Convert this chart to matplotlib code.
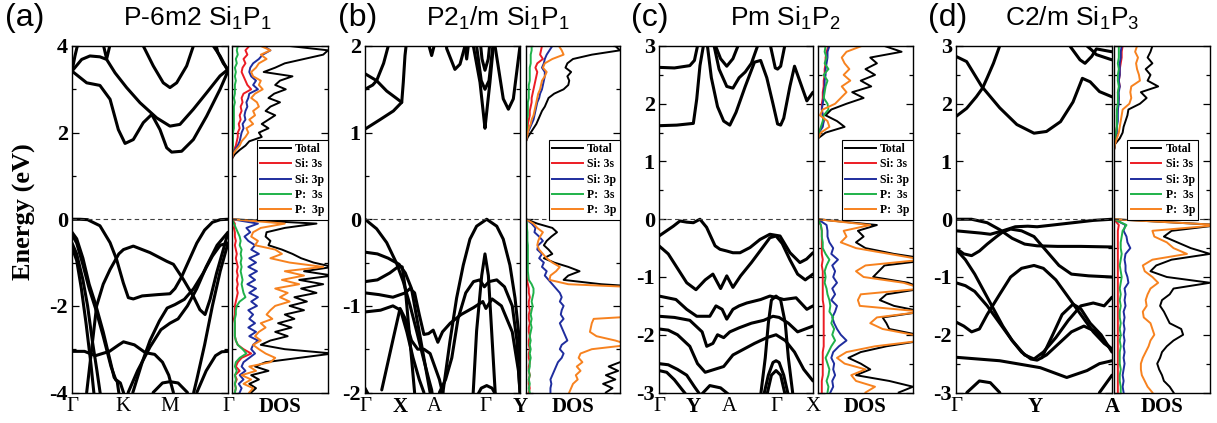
import numpy as np
import matplotlib.pyplot as plt
from matplotlib.font_manager import FontProperties
from matplotlib.lines import Line2D

plt.rcParams['font.family'] = 'Liberation Serif'
plt.rcParams['axes.unicode_minus'] = False
plt.rcParams['mathtext.fontset'] = 'custom'
plt.rcParams['mathtext.rm'] = 'Liberation Sans'
plt.rcParams['mathtext.it'] = 'Liberation Sans'

# ---------------- band structures: (k, E) along the path, k in 0..1 ----------------
kpts_a = [0, 0.325, 0.628, 1.0]
klab_a = ['Γ', 'K', 'M', 'Γ']
bands_a = [
    [(0, 3.42), (0.094, 3.15), (0.179, 3.09), (0.244, 2.77), (0.297, 2.07), (0.34, 1.75), (0.393, 1.84),
     (0.457, 2.23), (0.511, 2.42), (0.564, 2.07), (0.607, 1.65), (0.639, 1.55), (0.703, 1.57), (0.778, 1.84),
     (0.863, 2.38), (0.949, 3.0), (1.0, 3.42)],
    [(0, 3.42), (0.062, 3.69), (0.115, 3.77), (0.179, 3.75), (0.222, 3.69), (0.276, 3.38), (0.35, 3.04),
     (0.436, 2.69), (0.543, 2.34), (0.628, 2.15), (0.692, 2.19), (0.778, 2.54), (0.863, 2.92), (0.949, 3.31),
     (1.0, 3.46)],
    [(0, 3.42), (0.019, 3.77), (0.034, 4.0), (0.05, 4.3)],
    [(1.0, 3.42), (0.949, 3.77), (0.906, 4.0), (0.88, 4.2)],
    [(1.0, 3.46), (0.97, 3.6), (0.935, 3.85), (0.91, 4.2)],
    [(0.19, 4.2), (0.222, 3.7), (0.255, 4.2)],
    [(0.44, 4.2), (0.457, 4.0), (0.521, 3.54), (0.585, 3.15), (0.628, 3.04), (0.671, 3.15), (0.735, 3.54),
     (0.778, 4.0), (0.79, 4.2)],
    [(0, 0.0), (0.05, 0.0), (0.1, -0.01), (0.179, -0.15), (0.244, -0.54), (0.286, -0.93), (0.329, -1.47),
     (0.361, -1.81), (0.393, -1.84), (0.45, -1.77), (0.55, -1.74), (0.628, -1.72), (0.66, -1.6), (0.7, -1.35),
     (0.75, -0.95), (0.8, -0.55), (0.85, -0.25), (0.9, -0.07), (0.95, -0.01), (1.0, 0.0)],
    [(0.094, -4.0), (0.158, -2.0), (0.2, -1.5), (0.244, -1.16), (0.3, -0.8), (0.33, -0.7), (0.393, -0.62),
     (0.5, -0.77), (0.607, -0.97), (0.65, -1.04), (0.714, -1.39), (0.778, -1.78), (0.82, -2.09), (0.853, -2.2),
     (0.885, -1.85), (0.927, -1.24), (0.97, -0.7), (1.0, -0.31)],
    [(0, -0.3), (0.03, -0.45), (0.07, -0.9), (0.11, -1.5), (0.15, -1.95), (0.2, -2.6), (0.24, -3.2),
     (0.27, -3.65), (0.29, -3.75), (0.3, -4.0), (0.32, -4.3)],
    [(0, -0.35), (0.03, -0.55), (0.07, -1.05), (0.11, -1.6), (0.15, -2.05), (0.2, -2.7), (0.25, -3.4),
     (0.28, -3.7), (0.31, -3.78), (0.33, -4.0), (0.34, -4.3)],
    [(0, -0.55), (0.03, -0.8), (0.07, -1.4), (0.1, -2.0), (0.13, -2.8), (0.16, -3.5), (0.18, -4.0), (0.2, -4.4)],
    [(0, -0.65), (0.03, -0.95), (0.06, -1.6), (0.09, -2.4), (0.12, -3.3), (0.14, -4.0), (0.15, -4.3)],
    [(0.39, -4.0), (0.45, -3.3), (0.5, -2.8), (0.56, -2.35), (0.61, -2.05), (0.66, -1.97), (0.72, -1.85),
     (0.78, -1.6), (0.84, -1.25), (0.9, -0.85), (0.95, -0.6), (1.0, -0.55)],
    [(0.36, -4.0), (0.42, -3.5), (0.5, -2.95), (0.57, -2.55), (0.628, -2.4), (0.68, -2.3), (0.74, -2.0),
     (0.8, -1.6), (0.86, -1.1), (0.93, -0.6), (1.0, -0.3)],
    [(0, -3.05), (0.08, -3.05), (0.15, -3.15), (0.24, -3.05), (0.3, -2.9), (0.33, -2.83), (0.4, -2.9),
     (0.47, -3.08), (0.53, -3.12), (0.58, -3.3), (0.62, -3.6), (0.65, -4.0)],
    [(0.8, -4.0), (0.86, -3.5), (0.92, -3.15), (0.96, -3.06), (1.0, -3.05)],
    [(0.52, -4.0), (0.58, -3.78), (0.628, -3.75), (0.68, -3.78), (0.74, -4.0)],
    [(1.0, -0.55), (0.95, -1.2), (0.9, -2.0), (0.85, -2.9), (0.8, -3.7), (0.78, -4.0)],
]

kpts_b = [0, 0.23, 0.445, 0.78, 1.0]
klab_b = ['Γ', 'X', 'A', 'Γ', 'Y']
bands_b = [
    [(0, 1.04), (0.097, 1.15), (0.183, 1.25), (0.237, 1.35), (0.247, 1.58), (0.258, 1.89), (0.265, 2.0), (0.27, 2.2)],
    [(0, 1.68), (0.075, 1.6), (0.14, 1.48), (0.2, 1.4), (0.237, 1.35)],
    [(0, 1.5), (0.05, 1.55), (0.075, 1.6), (0.12, 1.8), (0.15, 2.0), (0.17, 2.2)],
    [(0.38, 2.2), (0.398, 2.1), (0.43, 1.89), (0.46, 2.1), (0.475, 2.2)],
    [(0.515, 2.2), (0.527, 1.97), (0.58, 1.73), (0.613, 1.79), (0.645, 2.0), (0.655, 2.2)],
    [(0.63, 2.2), (0.656, 1.85), (0.68, 2.2)],
    [(0.69, 2.2), (0.699, 2.0), (0.742, 1.58), (0.765, 1.2), (0.774, 1.05), (0.783, 1.2), (0.806, 1.58),
     (0.828, 2.0), (0.835, 2.2)],
    [(0.71, 2.2), (0.72, 2.0), (0.75, 1.6), (0.774, 1.5), (0.8, 1.6), (0.825, 2.0), (0.835, 2.2)],
    [(0.735, 2.2), (0.755, 1.85), (0.774, 1.72), (0.795, 1.85), (0.815, 2.2)],
    [(0.83, 2.2), (0.839, 2.0), (0.892, 1.39), (0.925, 1.27), (0.957, 1.39), (1.0, 2.0)],
    [(0, 0.0), (0.075, -0.11), (0.14, -0.27), (0.204, -0.51), (0.247, -0.72), (0.29, -0.99), (0.333, -1.29),
     (0.376, -1.6), (0.409, -1.83), (0.43, -1.97), (0.44, -2.1)],
    [(0.5, -2.1), (0.505, -1.97), (0.548, -1.41), (0.591, -0.91), (0.634, -0.53), (0.677, -0.23), (0.72, -0.08),
     (0.785, 0.0), (0.85, -0.08), (0.892, -0.23), (0.935, -0.53), (0.968, -0.91), (0.99, -1.29), (1.005, -1.67)],
    [(0.695, -2.1), (0.699, -1.97), (0.72, -1.29), (0.753, -0.65), (0.774, -0.4), (0.796, -0.65), (0.817, -1.29),
     (0.839, -1.97), (0.843, -2.1)],
    [(0.48, -2.0), (0.52, -1.85), (0.56, -1.6), (0.6, -1.15), (0.65, -0.85), (0.7, -0.72), (0.74, -0.7),
     (0.77, -0.78), (0.8, -0.72), (0.85, -0.7), (0.9, -0.78), (0.95, -1.0), (0.98, -1.4), (1.0, -2.0)],
    [(0, -0.85), (0.09, -0.87), (0.18, -0.9), (0.26, -0.85), (0.29, -0.8), (0.32, -0.85), (0.35, -1.1),
     (0.38, -1.33), (0.41, -1.32), (0.44, -1.28), (0.47, -1.42), (0.5, -1.3), (0.55, -1.2), (0.62, -1.1),
     (0.7, -1.02), (0.76, -0.95), (0.78, -1.03), (0.82, -0.92), (0.88, -1.0), (0.95, -1.3), (0.99, -1.75),
     (1.0, -2.0)],
    [(0, -0.38), (0.08, -0.4), (0.15, -0.45), (0.22, -0.52), (0.26, -0.62), (0.3, -0.8), (0.33, -1.1),
     (0.36, -1.4), (0.4, -1.8), (0.42, -2.0)],
    [(0, -0.72), (0.08, -0.7), (0.16, -0.62), (0.22, -0.54), (0.24, -0.55), (0.26, -0.8), (0.28, -1.2),
     (0.3, -1.6), (0.32, -2.0)],
    [(0, -1.07), (0.1, -1.05), (0.18, -1.0), (0.23, -1.05), (0.27, -1.3), (0.31, -1.6), (0.35, -1.85), (0.38, -2.0)],
    [(0.108, -1.97), (0.183, -1.37), (0.226, -1.03), (0.26, -1.15), (0.3, -1.4), (0.34, -1.5), (0.38, -1.5),
     (0.42, -1.55), (0.48, -1.85), (0.5, -2.0)],
    [(0.72, -2.05), (0.75, -1.95), (0.785, -1.92), (0.82, -1.95), (0.85, -2.05)],
    [(0, -1.95), (0.03, -2.05)],
]

kpts_c = [0, 0.22, 0.455, 0.76, 1.0]
klab_c = ['Γ', 'Y', 'A', 'Γ', 'X']
bands_c = [
    [(0, 1.62), (0.115, 1.63), (0.223, 1.66), (0.245, 2.08), (0.266, 2.66), (0.288, 3.0), (0.3, 3.2)],
    [(0.3, 3.3), (0.31, 3.1), (0.34, 2.45), (0.38, 1.95), (0.42, 1.7), (0.46, 1.63), (0.5, 1.85), (0.56, 2.3),
     (0.62, 2.72), (0.66, 2.75), (0.7, 2.45), (0.74, 2.0), (0.77, 1.65), (0.79, 1.63), (0.81, 1.75), (0.85, 2.3),
     (0.88, 2.65), (0.92, 2.35), (0.96, 2.05), (1.0, 2.2)],
    [(0, 2.63), (0.1, 2.62), (0.2, 2.66), (0.23, 2.75), (0.25, 3.0), (0.26, 3.2)],
    [(0.34, 3.2), (0.35, 3.1), (0.39, 2.6), (0.44, 2.3), (0.48, 2.27), (0.52, 2.45), (0.56, 2.55), (0.6, 2.7),
     (0.64, 3.0), (0.65, 3.2)],
    [(0.35, 3.2), (0.36, 3.05), (0.4, 2.78), (0.44, 2.65), (0.48, 2.78), (0.52, 3.05), (0.53, 3.2)],
    [(0.71, 3.2), (0.72, 3.05), (0.755, 2.62), (0.77, 2.6), (0.79, 2.65), (0.82, 3.05), (0.83, 3.2)],
    [(0, -0.29), (0.093, -0.12), (0.136, -0.03), (0.18, -0.05), (0.223, -0.06), (0.266, 0.0), (0.309, -0.14),
     (0.364, -0.46), (0.396, -0.52), (0.44, -0.55), (0.48, -0.58), (0.526, -0.58), (0.591, -0.49), (0.656, -0.35),
     (0.72, -0.26), (0.786, -0.29), (0.851, -0.58), (0.915, -0.75), (0.958, -0.69), (1.0, -0.58)],
    [(0, -0.46), (0.06, -0.6), (0.12, -0.85), (0.18, -1.1), (0.24, -1.22), (0.3, -1.05), (0.35, -0.95),
     (0.4, -1.2), (0.44, -0.98), (0.48, -1.18), (0.53, -0.98), (0.6, -0.75), (0.67, -0.5), (0.72, -0.32),
     (0.76, -0.29), (0.8, -0.42), (0.85, -0.7), (0.9, -0.95), (0.95, -1.05), (1.0, -0.95)],
    [(0, -1.33), (0.11, -1.39), (0.18, -1.56), (0.245, -1.68), (0.33, -1.68), (0.37, -1.5), (0.41, -1.56),
     (0.44, -1.73), (0.48, -1.56), (0.52, -1.5), (0.57, -1.45), (0.66, -1.39), (0.72, -1.33), (0.77, -1.36),
     (0.81, -1.39), (0.89, -1.36), (0.96, -1.56), (1.0, -1.5)],
    [(0, -1.68), (0.1, -1.7), (0.2, -1.75), (0.28, -1.95), (0.31, -2.2), (0.35, -2.15), (0.38, -2.0),
     (0.42, -2.05), (0.46, -1.95), (0.52, -1.88), (0.6, -1.8), (0.68, -1.75), (0.74, -1.68), (0.78, -1.7),
     (0.84, -1.8), (0.9, -1.95), (0.95, -1.9), (1.0, -1.85)],
    [(0, -1.9), (0.06, -1.92), (0.12, -2.0), (0.2, -2.2), (0.25, -2.5), (0.3, -2.65), (0.36, -2.6),
     (0.42, -2.55), (0.48, -2.35), (0.55, -2.25), (0.62, -2.15), (0.7, -2.05), (0.76, -2.0), (0.82, -2.1),
     (0.88, -2.3), (0.94, -2.6), (1.0, -2.8)],
    [(0, -2.5), (0.06, -2.52), (0.12, -2.6), (0.18, -2.7), (0.23, -2.9), (0.27, -3.05)],
    [(0, -2.62), (0.05, -2.65), (0.1, -2.78), (0.15, -2.95), (0.18, -3.05)],
    [(0.27, -3.05), (0.33, -2.88), (0.4, -2.92), (0.46, -3.05)],
    [(0.66, -3.05), (0.69, -2.4), (0.71, -1.8), (0.73, -1.4), (0.76, -1.33), (0.79, -1.4), (0.82, -1.8),
     (0.84, -2.4), (0.87, -3.05)],
    [(0.68, -3.05), (0.71, -2.7), (0.74, -2.48), (0.76, -2.45), (0.78, -2.48), (0.81, -2.7), (0.84, -3.05)],
    [(0.7, -3.05), (0.73, -2.7), (0.76, -2.62), (0.79, -2.7), (0.82, -3.05)],
]

kpts_d = [0, 0.51, 1.0]
klab_d = ['Γ', 'Y', 'A']
bands_d = [
    [(0, 1.78), (0.068, 1.92), (0.13, 2.12), (0.17, 2.27), (0.2, 2.45), (0.24, 2.7), (0.28, 3.0), (0.3, 3.2)],
    [(0, 2.82), (0.068, 2.73), (0.165, 2.3), (0.28, 1.93), (0.39, 1.64), (0.5, 1.49), (0.58, 1.52), (0.67, 1.69),
     (0.75, 2.03), (0.81, 2.44), (0.86, 2.38), (0.92, 2.21), (1.0, 2.12)],
    [(0.72, 3.1), (0.73, 3.0), (0.795, 2.76), (0.827, 2.7), (0.87, 2.82), (0.9, 2.95), (1.0, 2.9)],
    [(0.83, 3.1), (0.84, 3.0), (0.87, 2.93), (0.9, 2.85), (1.0, 2.76)],
    [(0, 0.0), (0.1, 0.0), (0.2, -0.06), (0.28, -0.18), (0.36, -0.33), (0.44, -0.43), (0.52, -0.46),
     (0.65, -0.47), (0.8, -0.47), (1.0, -0.48)],
    [(0, -0.2), (0.08, -0.22), (0.16, -0.24), (0.22, -0.26), (0.3, -0.2), (0.38, -0.13), (0.46, -0.12),
     (0.52, -0.13), (0.62, -0.1), (0.75, -0.06), (0.88, -0.02), (1.0, 0.0)],
    [(0, -0.5), (0.05, -0.6), (0.1, -0.63), (0.15, -0.55), (0.2, -0.43), (0.26, -0.3), (0.3, -0.22),
     (0.35, -0.17), (0.42, -0.2), (0.5, -0.3), (0.58, -0.55), (0.66, -0.8), (0.74, -0.95), (0.85, -0.98),
     (1.0, -1.0)],
    [(0, -0.52), (0.06, -0.7), (0.12, -0.95), (0.18, -1.25), (0.24, -1.55), (0.3, -1.85), (0.36, -2.1),
     (0.42, -2.3), (0.48, -2.42), (0.52, -2.44), (0.58, -2.35), (0.66, -2.15), (0.74, -1.95), (0.82, -1.85),
     (0.9, -1.95), (0.96, -2.15), (1.0, -2.25)],
    [(0, -1.1), (0.06, -1.15), (0.12, -1.25), (0.2, -1.5), (0.28, -1.8), (0.36, -2.1), (0.44, -2.35),
     (0.5, -2.42), (0.56, -2.3), (0.64, -2.05), (0.72, -1.75), (0.8, -1.5), (0.88, -1.45), (0.95, -1.5),
     (1.0, -1.35)],
    [(0, -1.78), (0.05, -1.85), (0.1, -1.95), (0.15, -1.9), (0.2, -1.65), (0.28, -1.3), (0.35, -1.0),
     (0.42, -0.85), (0.5, -0.8), (0.56, -0.85), (0.64, -1.05), (0.72, -1.35), (0.8, -1.65), (0.88, -1.95),
     (0.95, -2.15), (1.0, -2.25)],
    [(0.55, -2.4), (0.62, -2.0), (0.68, -1.65), (0.75, -1.47), (0.8, -1.55), (0.86, -1.8), (0.93, -2.0),
     (1.0, -2.3)],
    [(0, -2.39), (0.28, -2.45), (0.54, -2.57), (0.71, -2.74), (0.84, -2.62), (0.92, -2.5), (1.0, -2.45)],
    [(0.06, -3.1), (0.07, -3.0), (0.15, -2.8), (0.22, -2.83), (0.28, -3.0), (0.29, -3.1)],
    [(0.91, -3.1), (0.92, -3.0), (1.0, -2.7)],
]

# ---------------- projected DOS (percent of panel width), top to bottom in energy ----------------
E_a = np.linspace(4.0, -4.0, 81)
tot_a = [60, 100, 95, 75, 55, 45, 33, 63, 50, 45, 56, 44, 38, 50, 40, 35, 45, 38, 31, 38, 28, 31, 18, 14, 8, 3,
         0, 0, 0, 0, 0, 0, 0, 0, 0, 0, 0, 0, 0, 0, 0,
         88, 55, 36, 35, 40, 38, 52, 63, 72, 85, 105, 75, 105, 70, 95, 72, 88, 65, 78, 60, 75, 55, 65, 48, 62,
         45, 58, 40, 30, 55, 105, 70, 35, 24, 38, 20, 28, 18, 25, 20]
si3s_a = [18, 14, 16, 12, 14, 11, 10, 12, 14, 16, 20, 12, 10, 11, 9, 10, 8, 9, 7, 8, 6, 6, 5, 4, 2, 1,
          0, 0, 0, 0, 0, 0, 0, 0, 0, 0, 0, 0, 0, 0, 0,
          3, 2, 3, 3, 4, 3, 4, 5, 4, 5, 6, 5, 6, 5, 6, 5, 6, 5, 4, 3, 3, 3, 2, 3, 3, 3, 3, 4, 6, 12, 20, 10, 6, 4,
          8, 3, 5, 3, 4, 3]
si3p_a = [33, 40, 32, 28, 22, 19, 18, 20, 25, 22, 27, 18, 17, 15, 16, 14, 13, 14, 11, 12, 10, 9, 8, 6, 3, 1,
          0, 0, 0, 0, 0, 0, 0, 0, 0, 0, 0, 0, 0, 0, 0,
          27, 15, 19, 13, 17, 24, 20, 28, 18, 25, 17, 26, 18, 24, 16, 25, 18, 27, 20, 26, 17, 22, 18, 24, 17, 25,
          18, 27, 22, 20, 24, 18, 12, 10, 14, 8, 12, 7, 10, 8]
p3s_a = [6, 5, 6, 4, 5, 3, 4, 3, 4, 3, 3, 3, 2, 3, 2, 2, 2, 2, 2, 2, 1, 1, 1, 1, 0.5, 0,
         0, 0, 0, 0, 0, 0, 0, 0, 0, 0, 0, 0, 0, 0, 0,
         2, 4, 6, 8, 9, 8, 10, 9, 10, 9, 10, 9, 10, 11, 10, 11, 12, 14, 8, 5, 4, 4, 3, 3, 3, 3, 3, 4, 6, 11, 15,
         8, 4, 3, 5, 3, 4, 3, 4, 3]
p3p_a = [30, 40, 30, 36, 28, 25, 20, 22, 30, 28, 32, 24, 20, 26, 28, 22, 24, 18, 22, 15, 17, 14, 10, 8, 4, 1,
         0, 0, 0, 0, 0, 0, 0, 0, 0, 0, 0, 0, 0, 0, 0,
         55, 30, 22, 20, 27, 24, 45, 52, 40, 60, 95, 55, 75, 52, 70, 45, 58, 50, 60, 45, 40, 36, 42, 30, 35, 28,
         24, 30, 22, 28, 35, 45, 40, 18, 25, 10, 20, 12, 22, 18]

E_b = np.linspace(2.0, -2.0, 81)
tot_b = [95, 100, 70, 50, 44, 42, 48, 44, 46, 45, 40, 30, 24, 22, 20, 17, 15, 13, 11, 8, 5, 2,
         0, 0, 0, 0, 0, 0, 0, 0, 0, 0, 0, 0, 0, 0, 0, 0, 0, 0, 0,
         12, 28, 33, 27, 22, 19, 24, 28, 19, 30, 45, 57, 45, 40, 80,
         150, 150, 150, 150, 150, 150, 150, 150, 150, 150, 150, 150, 150, 150, 150, 150, 150,
         100, 88, 98, 85, 95, 82, 92, 85]
si3s_b = [17, 16, 15, 18, 12, 10, 12, 11, 10, 9, 8, 7, 6, 6, 5, 4, 4, 3, 2, 2, 1, 0.5,
          0, 0, 0, 0, 0, 0, 0, 0, 0, 0, 0, 0, 0, 0, 0, 0, 0, 0, 0,
          0.5, 0.5, 0.5, 0.5, 0.5, 0.5, 0.5, 0.5, 0.5, 0.5, 0.5, 0.5, 0.5, 1, 2,
          3, 3, 4, 3, 3, 4, 3, 3, 4, 3, 3, 4, 3, 3, 4, 3, 3, 4, 3, 3, 4, 3, 3, 4, 3]
si3p_b = [28, 25, 22, 20, 19, 17, 20, 20, 19, 18, 17, 15, 14, 12, 11, 10, 9, 8, 6, 4, 2, 1,
          0, 0, 0, 0, 0, 0, 0, 0, 0, 0, 0, 0, 0, 0, 0, 0, 0, 0, 0,
          6, 10, 9, 14, 18, 13, 12, 17, 14, 19, 17, 22, 20, 24, 28, 32, 36, 38, 36, 40, 38, 37, 40, 36, 38, 40,
          42, 44, 38, 36, 40, 38, 34, 32, 30, 28, 26, 27, 26, 26]
p3s_b = [6, 6, 5, 5, 5, 4, 4, 4, 4, 3, 3, 3, 3, 2, 2, 2, 2, 1, 1, 1, 0.5, 0,
         0, 0, 0, 0, 0, 0, 0, 0, 0, 0, 0, 0, 0, 0, 0, 0, 0, 0, 0,
         1, 1, 1.5, 1.5, 1.5, 2, 2, 2, 2, 2, 2, 2, 2.5, 3, 6,
         8, 8, 7, 6, 7, 6, 5, 6, 5, 6, 5, 4, 5, 4, 5, 4, 5, 4, 4, 3, 4, 3, 4, 3, 4]
p3p_b = [35, 38, 40, 28, 20, 18, 22, 20, 17, 16, 15, 13, 12, 11, 10, 9, 8, 6, 5, 3, 2, 1,
         0, 0, 0, 0, 0, 0, 0, 0, 0, 0, 0, 0, 0, 0, 0, 0, 0, 0, 0,
         8, 12, 18, 15, 13, 12, 14, 18, 22, 28, 36, 32, 26, 25, 45,
         150, 150, 150, 150, 150, 150, 150, 72, 70, 69, 68, 75, 95, 110, 70, 58, 56, 60, 54, 58, 53, 55, 50, 48, 46]

E_c = np.linspace(3.0, -3.0, 61)
tot_c = [70, 88, 55, 62, 50, 60, 45, 56, 36, 48, 30, 14, 8, 20, 28, 8,
         0, 0, 0, 0, 0, 0, 0, 0, 0, 0, 0, 0, 0, 0, 0,
         62, 42, 48, 40, 50, 80, 120, 70, 64, 58, 95, 110, 72, 65, 80, 110, 68, 72, 75, 105, 110, 72, 45, 32, 45,
         55, 40, 75, 100, 85]
si3s_c = [11, 9, 8, 8, 7, 7, 6, 6, 5, 5, 4, 4, 5, 6, 4, 1,
          0, 0, 0, 0, 0, 0, 0, 0, 0, 0, 0, 0, 0, 0, 0,
          3, 4, 4, 4, 4, 4, 5, 4, 5, 5, 5, 5, 5, 5, 6, 6, 6, 6, 6, 6, 6, 6, 5, 5, 5, 5, 5, 4, 4, 4]
si3p_c = [12, 10, 10, 9, 8, 8, 7, 7, 6, 6, 5, 4, 5, 6, 5, 1,
          0, 0, 0, 0, 0, 0, 0, 0, 0, 0, 0, 0, 0, 0, 0,
          9, 10, 10, 12, 16, 14, 21, 15, 18, 16, 20, 15, 18, 14, 20, 18, 15, 17, 20, 24, 30, 22, 16, 14, 17, 16,
          18, 15, 16, 13]
p3s_c = [8, 7, 9, 7, 11, 6, 10, 8, 7, 6, 10, 11, 6, 5, 3, 1,
         0, 0, 0, 0, 0, 0, 0, 0, 0, 0, 0, 0, 0, 0, 0,
         3, 4, 4, 5, 5, 8, 12, 9, 7, 8, 7, 9, 10, 12, 13, 12, 16, 14, 17, 15, 18, 14, 11, 8, 10, 12, 11, 9, 11, 10]
p3p_c = [46, 30, 25, 28, 33, 27, 34, 25, 30, 24, 18, 5, 2, 10, 12, 3,
         0, 0, 0, 0, 0, 0, 0, 0, 0, 0, 0, 0, 0, 0, 0,
         55, 27, 30, 24, 40, 75, 110, 50, 40, 48, 90, 110, 45, 42, 44, 110, 62, 55, 68, 100, 110, 60, 30, 20, 28,
         50, 35, 40, 60, 50]

E_d = np.linspace(3.0, -3.0, 61)
tot_d = [40, 38, 35, 40, 33, 38, 35, 46, 28, 34, 27, 15, 14, 12, 10, 9, 6, 1,
         0, 0, 0, 0, 0, 0, 0, 0, 0, 0, 0, 0, 0,
         110, 60, 52, 66, 80, 100, 60, 44, 38, 55, 100, 62, 58, 50, 48, 52, 55, 58, 70, 72, 62, 55, 50, 48, 45,
         47, 50, 52, 58, 62]
si3s_d = [9, 8, 8, 7, 6, 6, 5, 6, 4, 5, 4, 4, 3, 3, 3, 2, 2, 1,
          0, 0, 0, 0, 0, 0, 0, 0, 0, 0, 0, 0, 0,
          5, 4, 4, 4, 4, 4, 4, 4, 4, 4, 4, 4, 4, 4, 4, 4, 4, 4, 4, 4, 4, 4, 4, 4, 4, 4, 4, 4, 4, 4]
si3p_d = [8, 7, 7, 6, 6, 6, 5, 6, 5, 5, 5, 4, 4, 4, 3, 3, 2, 1,
          0, 0, 0, 0, 0, 0, 0, 0, 0, 0, 0, 0, 0,
          12, 10, 13, 14, 17, 12, 11, 12, 12, 14, 15, 11, 12, 11, 12, 10, 11, 10, 11, 10, 11, 10, 11, 10, 11, 10,
          9, 10, 9, 10]
p3s_d = [5, 5, 5, 4, 5, 4, 4, 5, 4, 4, 4, 3, 3, 3, 3, 2, 1, 0.5,
         0, 0, 0, 0, 0, 0, 0, 0, 0, 0, 0, 0, 0,
         13, 9, 8, 7, 7, 8, 7, 6, 7, 8, 7, 6, 7, 6, 7, 6, 6, 7, 6, 7, 6, 7, 6, 6, 6, 7, 6, 6, 7, 7]
p3p_d = [24, 22, 25, 23, 24, 26, 27, 18, 17, 18, 16, 9, 8, 7, 6, 5, 3, 1,
         0, 0, 0, 0, 0, 0, 0, 0, 0, 0, 0, 0, 0,
         110, 40, 42, 55, 62, 76, 40, 30, 32, 40, 46, 38, 35, 33, 34, 30, 31, 38, 40, 42, 38, 36, 33, 30, 28, 28,
         29, 32, 35, 40]

labels = ['Total', 'Si: 3s', 'Si: 3p', 'P:  3s', 'P:  3p']
colors = ['black', '#ec1c24', '#1f2d9e', '#1fb24a', '#f7821f']

fig = plt.figure(figsize=(12.17, 4.23), dpi=100)
W, H = 1217.0, 423.0


def px_axes(x0, x1, y0=46.0, y1=392.5):
    return fig.add_axes([x0 / W, 1 - y1 / H, (x1 - x0) / W, (y1 - y0) / H])


def draw_panel(box_band, box_dos, bands, kpts, klab, kbold, E, dos, ylim, major, minor,
               tag, tag_x, title, title_x, leg_x):
    ax = px_axes(*box_band)
    dx = px_axes(*box_dos)
    for b in bands:
        k, e = zip(*b)
        ax.plot(k, e, color='black', lw=2.2, solid_joinstyle='round', solid_capstyle='round')
    for vals, c in zip(dos, colors):
        dx.plot(vals, E, color=c, lw=1.4, solid_joinstyle='round')
    for a in (ax, dx):
        a.axhline(0, color='0.25', lw=0.8, ls=(0, (4, 3)))
        a.set_ylim(*ylim)
        a.set_yticks(major)
        a.set_yticks(minor, minor=True)
        a.tick_params(axis='y', which='both', direction='in', left=True, right=True, width=0.9)
        a.tick_params(axis='y', which='major', length=5, pad=3)
        a.tick_params(axis='y', which='minor', length=3)
        a.tick_params(axis='x', length=0, pad=3)
        for s in a.spines.values():
            s.set_linewidth(1.0)
    ax.set_xlim(0, 1)
    ax.set_xticks(kpts)
    ax.set_xticklabels(klab, fontsize=15)
    for t, b in zip(ax.get_xticklabels(), kbold):
        t.set_fontweight('bold' if b else 'normal')
    ax.set_yticklabels([str(v) for v in major], fontsize=16, fontweight='bold')
    dx.set_xlim(0, 100)
    dx.set_xticks([50])
    dx.set_xticklabels(['DOS'], fontsize=15, fontweight='bold')
    dx.set_yticklabels([])

    handles = [Line2D([], [], color=c, lw=1.4) for c in colors]
    leg = dx.legend(handles, labels, loc='upper right', bbox_to_anchor=(leg_x, 0.73),
                    prop=FontProperties(family='Liberation Serif', weight='bold', size=8.5),
                    frameon=True, fancybox=False, edgecolor='black', framealpha=1,
                    handlelength=2.6, handletextpad=0.35, borderpad=0.3, labelspacing=0.28,
                    borderaxespad=0)
    leg.get_frame().set_linewidth(0.8)

    fig.text(tag_x / W, 0.957, tag, ha='center', va='center', fontsize=23, family='Liberation Sans')
    fig.text(title_x / W, 0.957, title, ha='center', va='center', fontsize=19, family='Liberation Sans')


draw_panel((72, 228), (232, 328), bands_a, kpts_a, klab_a, [0, 0, 0, 0], E_a,
           [tot_a, si3s_a, si3p_a, p3s_a, p3p_a], (-4, 4), [-4, -2, 0, 2, 4], [-3, -1, 1, 3],
           '(a)', 25, r'P-6m2 Si$_1$P$_1$', 197, 1.0)
draw_panel((365, 520), (526, 620), bands_b, kpts_b, klab_b, [0, 1, 0, 0, 1], E_b,
           [tot_b, si3s_b, si3p_b, p3s_b, p3p_b], (-2, 2), [-2, -1, 0, 1, 2], [-1.5, -0.5, 0.5, 1.5],
           '(b)', 358, r'P2$_1$/m Si$_1$P$_1$', 498, 1.0)
draw_panel((659, 813), (818, 913), bands_c, kpts_c, klab_c, [0, 1, 0, 0, 0], E_c,
           [tot_c, si3s_c, si3p_c, p3s_c, p3p_c], (-3, 3), [-3, -2, -1, 0, 1, 2, 3],
           [-2.5, -1.5, -0.5, 0.5, 1.5, 2.5], '(c)', 650, r'Pm Si$_1$P$_2$', 785, 1.0)
draw_panel((956, 1112), (1114, 1210), bands_d, kpts_d, klab_d, [0, 1, 1], E_d,
           [tot_d, si3s_d, si3p_d, p3s_d, p3p_d], (-3, 3), [-3, -2, -1, 0, 1, 2, 3],
           [-2.5, -1.5, -0.5, 0.5, 1.5, 2.5], '(d)', 948, r'C2/m Si$_1$P$_3$', 1072, 0.88)

fig.text(24 / W, 1 - 212 / H, 'Energy (eV)', rotation=90, ha='center', va='center',
         fontsize=19, fontweight='bold')

fig.savefig('out.png', dpi=100)
